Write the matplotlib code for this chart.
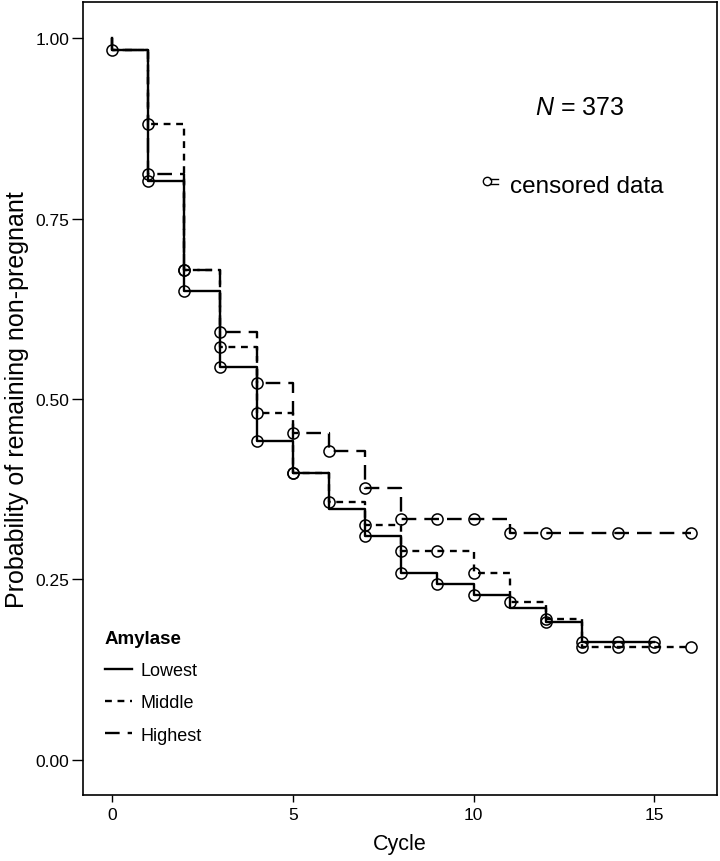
import numpy as np
import matplotlib
matplotlib.use("Agg")
import matplotlib.pyplot as plt
from matplotlib.lines import Line2D

plt.rcParams['font.family'] = ['Liberation Sans', 'DejaVu Sans']
plt.rcParams['mathtext.fontset'] = 'custom'
plt.rcParams['mathtext.rm'] = 'Liberation Sans'
plt.rcParams['mathtext.it'] = 'Liberation Sans:italic'

# survival estimates after each cycle (value held until next cycle)
cycles_low = list(range(0, 16))
surv_low = [0.984, 0.802, 0.650, 0.544, 0.442, 0.397, 0.347, 0.310, 0.259,
            0.244, 0.228, 0.210, 0.191, 0.163, 0.163, 0.163]
cycles_mid = list(range(0, 17))
surv_mid = [0.984, 0.881, 0.679, 0.572, 0.481, 0.397, 0.357, 0.325, 0.290,
            0.290, 0.259, 0.219, 0.195, 0.156, 0.156, 0.156, 0.156]
cycles_high = list(range(0, 17))
surv_high = [0.984, 0.812, 0.678, 0.593, 0.522, 0.453, 0.428, 0.377, 0.334,
             0.334, 0.334, 0.315, 0.315, 0.315, 0.315, 0.315, 0.315]

# cycles with censored observations
cens_low = [0, 1, 2, 3, 4, 5, 7, 8, 9, 10, 12, 13, 14, 15]
cens_mid = [1, 2, 3, 4, 5, 6, 7, 8, 9, 10, 11, 12, 13, 14, 15, 16]
cens_high = [1, 2, 3, 4, 5, 6, 7, 8, 9, 10, 11, 12, 14, 16]

group_names = ["Lowest", "Middle", "Highest"]
y_ticks = [0.0, 0.25, 0.50, 0.75, 1.00]
y_ticklabels = ["0.00", "0.25", "0.50", "0.75", "1.00"]
x_ticks = [0, 5, 10, 15]

fig = plt.figure(figsize=(7.2, 8.62), dpi=100)
ax = fig.add_axes([83 / 720, 66 / 862, 634 / 720, 793 / 862])

styles = ['-', (0, (2.9, 2.4)), (0, (6.2, 3.4))]
series = [(cycles_low, surv_low, cens_low),
          (cycles_mid, surv_mid, cens_mid),
          (cycles_high, surv_high, cens_high)]

handles = []
for (cyc, surv, cens), ls, name in zip(series, styles, group_names):
    xs = [0] + cyc
    ys = [1.0] + surv
    ln, = ax.plot(xs, ys, drawstyle='steps-post', color='black', lw=1.7,
                  linestyle=ls, label=name)
    handles.append(ln)
    lookup = dict(zip(cyc, surv))
    ax.plot(cens, [lookup[c] for c in cens], 'o', mfc='none', mec='black',
            mew=1.1, ms=8, zorder=3)

ax.set_xlim(-0.80, 16.73)
ax.set_ylim(-0.0485, 1.0499)
ax.set_xticks(x_ticks)
ax.set_yticks(y_ticks)
ax.set_yticklabels(y_ticklabels)
ax.tick_params(axis='y', length=8, width=1, pad=2, labelsize=12.5)
ax.tick_params(axis='x', length=5, width=1, pad=4, labelsize=12.5)
for sp in ax.spines.values():
    sp.set_linewidth(1.2)

ax.set_ylabel("Probability of remaining non-pregnant", fontsize=18)
ax.yaxis.set_label_coords(-0.085, 0.5)
ax.set_xlabel("Cycle", fontsize=15.5)
ax.xaxis.set_label_coords(0.5, -0.048)

leg = ax.legend(handles=handles, title="Amylase", loc='upper left',
                bbox_to_anchor=(0.0347, 0.2084), frameon=False, fontsize=13,
                title_fontproperties={'weight': 'bold', 'size': 13.5},
                alignment='left', handlelength=1.5, handletextpad=0.45,
                labelspacing=0.85, borderpad=0, borderaxespad=0)

fig.text(535 / 720, 1 - 108 / 862, "$N$ = 373", fontsize=18, va='center', ha='left')
fig.text(510 / 720, 1 - 187 / 862, "censored data", fontsize=17.5, va='center', ha='left')
# censored-data symbol
fig.add_artist(Line2D([487 / 720], [1 - 182 / 862], marker='o', mfc='none',
                      mec='black', ms=6, mew=1.0, transform=fig.transFigure))
for yy in (180, 185):
    fig.add_artist(Line2D([490 / 720, 498 / 720], [1 - yy / 862, 1 - yy / 862],
                          color='black', lw=1.0, transform=fig.transFigure))

fig.savefig("out.png", dpi=100)
